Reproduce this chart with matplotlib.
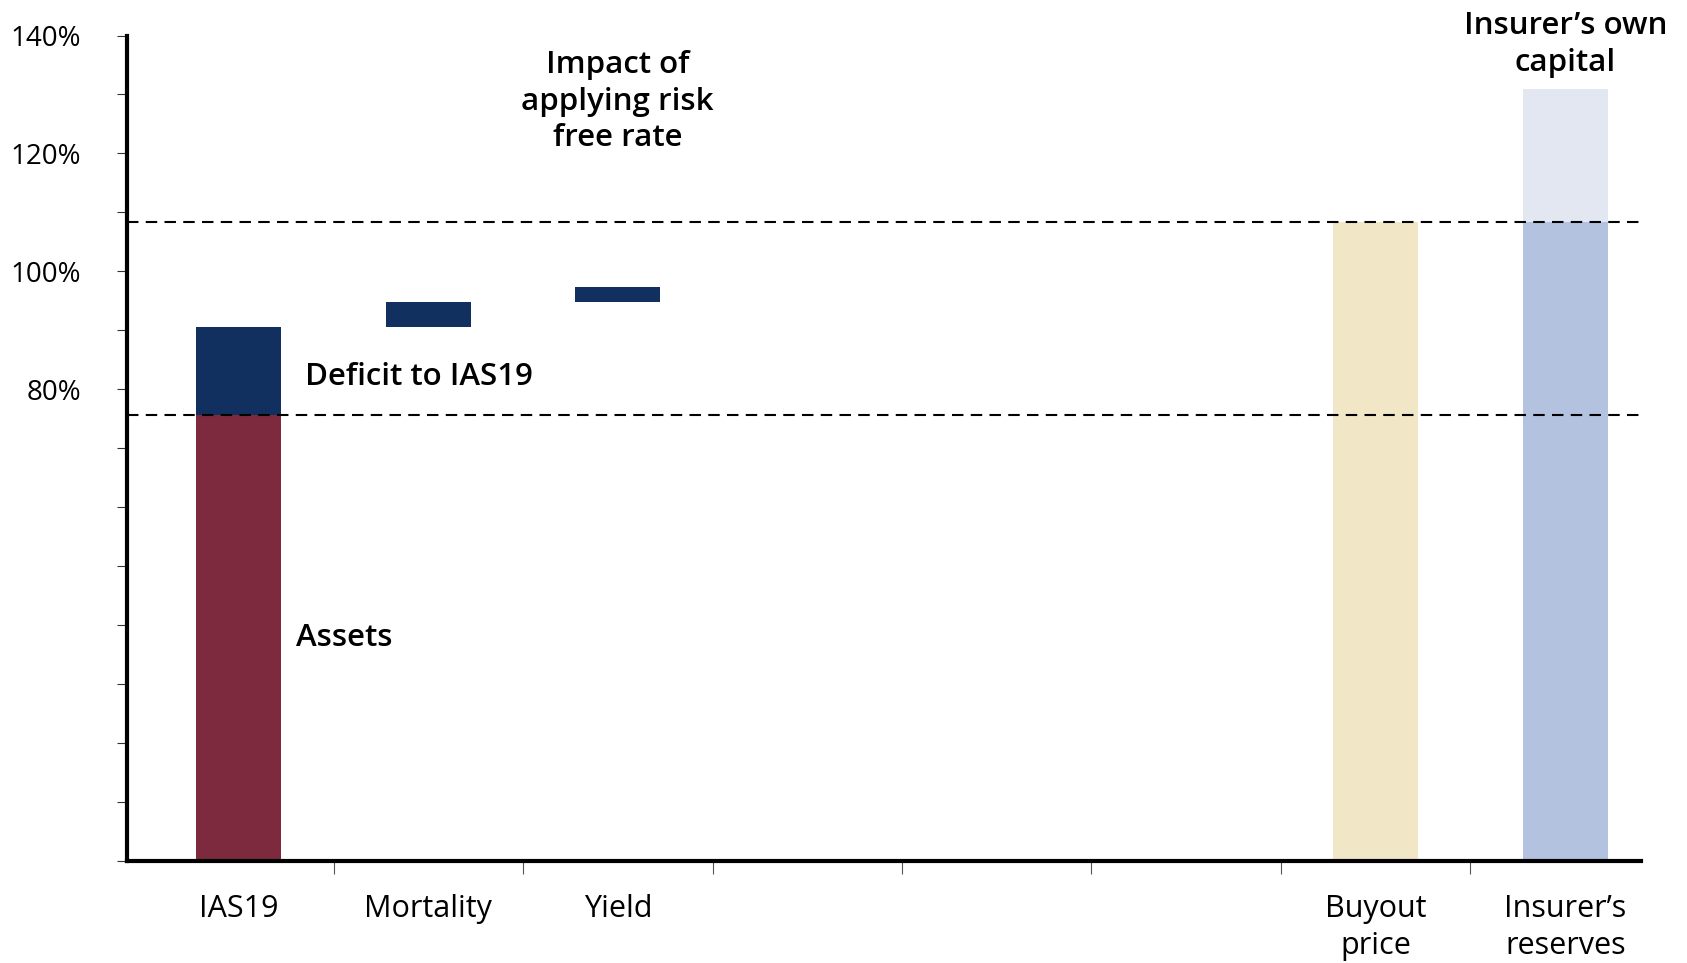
import matplotlib
matplotlib.use("Agg")
import matplotlib.pyplot as plt
import numpy as np

# Categories along the x axis (blank slots keep the gap before the buyout bars)
categories = ["IAS19", "Mortality", "Yield", "", "", "", "Buyout\nprice", "Insurer\u2019s\nreserves"]

# Funding level values (% of IAS19 liabilities basis)
assets_level = 75.6
step_names = ["IAS19", "Mortality", "Yield"]
step_bottom = [75.6, 90.5, 94.8]
step_top = [90.5, 94.8, 97.3]
buyout_price = 108.4
insurer_reserves = 108.4
insurer_capital = 22.5

y_labelled = [80, 100, 120, 140]
y_minor = list(range(0, 150, 10))

maroon = "#7D2A3E"
navy = "#12305F"
beige = "#F1E6C6"
steel = "#B2C2DF"
pale = "#E3E7F2"

plt.rcParams["font.family"] = ["Open Sans", "DejaVu Sans"]

fig = plt.figure(figsize=(16.87, 9.63), dpi=100)
ax = fig.add_axes([127 / 1687, 1 - 860.7 / 963, (1641 - 127) / 1687, (860.7 - 35.5) / 963])

x = np.arange(len(categories))
w = 0.45
pos = {c: i for i, c in enumerate(categories)}

# Assets bar under the IAS19 deficit
ax.bar(pos["IAS19"], assets_level, width=w, color=maroon, zorder=2)
# Floating waterfall steps
for name, b, t in zip(step_names, step_bottom, step_top):
    ax.bar(pos[name], t - b, bottom=b, width=w, color=navy, zorder=2)

ax.bar(pos["Buyout\nprice"], buyout_price, width=w, color=beige, zorder=2)
ax.bar(pos["Insurer\u2019s\nreserves"], insurer_reserves, width=w, color=steel, zorder=2)
ax.bar(pos["Insurer\u2019s\nreserves"], insurer_capital, bottom=insurer_reserves,
       width=w, color=pale, zorder=2)

# Reference levels
for lvl in (assets_level, buyout_price):
    ax.axhline(lvl, color="black", lw=1.5, linestyle=(0, (5.5, 3.5)), zorder=3)

ax.set_xlim(-0.59, 7.4)
ax.set_ylim(0, 140)

# Axes styling
for s in ("top", "right"):
    ax.spines[s].set_visible(False)
for s in ("left", "bottom"):
    ax.spines[s].set_linewidth(3)
    ax.spines[s].set_color("black")

ax.set_yticks(y_minor)
ax.set_yticklabels([f"{v}%" if v in y_labelled else "" for v in y_minor])
ax.tick_params(axis="y", length=7, width=0.8, color="#333333", labelsize=20, pad=26)

ax.set_xticks(x)
ax.set_xticklabels(categories)
ax.set_xticks(np.arange(0.5, 7, 1.0), minor=True)
ax.tick_params(axis="x", which="major", length=0, labelsize=22, pad=24)
ax.tick_params(axis="x", which="minor", length=9, width=0.8, color="#555555")
for lab in ax.get_xticklabels():
    lab.set_linespacing(1.3)

# Annotations
ann = dict(fontsize=22.5, fontweight="semibold")
ax.text(0.35, 82.1, "Deficit to IAS19", ha="left", va="center", **ann)
ax.text(0.30, 37.7, "Assets", ha="left", va="center", **ann)
ax.text(2.0, 128.8, "Impact of\napplying risk\nfree rate", ha="center",
        va="center", linespacing=1.3, **ann)
ax.text(7.0, 138.4, "Insurer\u2019s own\ncapital", ha="center", va="center",
        linespacing=1.3, **ann)

fig.savefig("out.png", dpi=100, facecolor="white")
